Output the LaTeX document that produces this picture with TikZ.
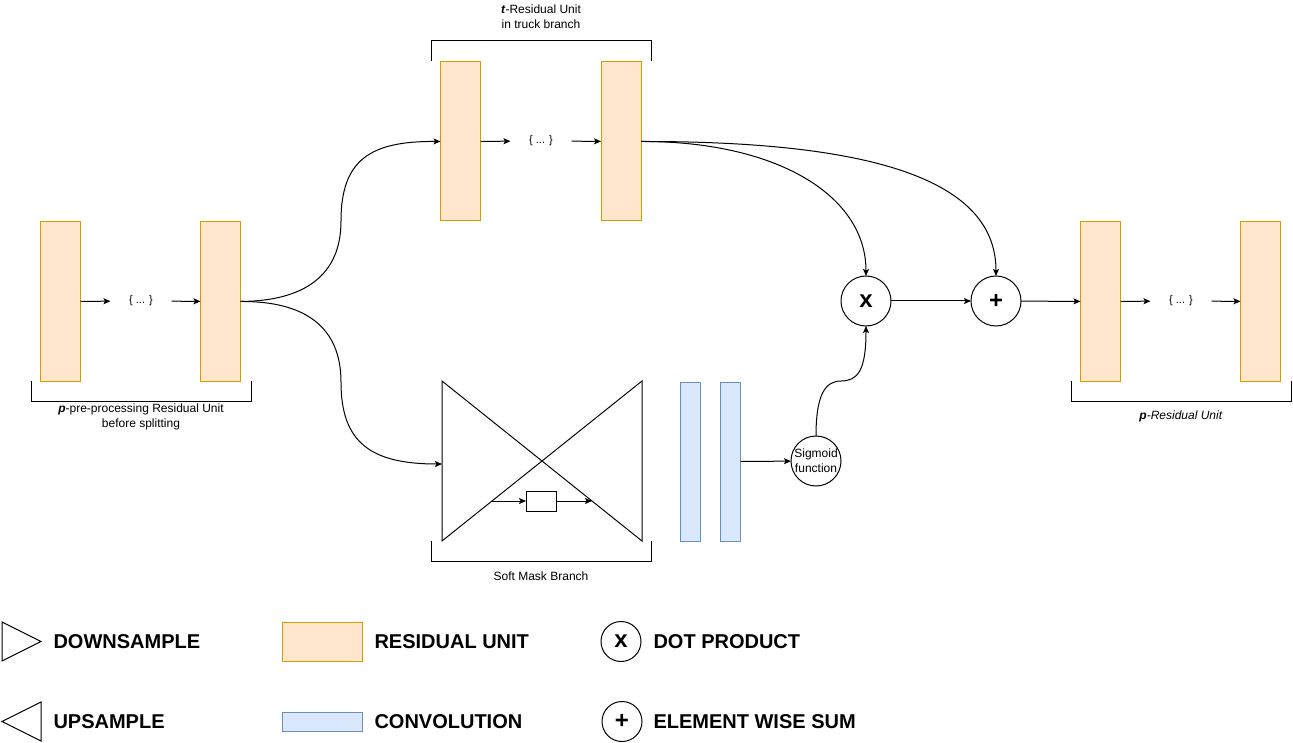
\documentclass[tikz,border=0pt]{standalone}
\usepackage{fontspec}
\setmainfont{Liberation Sans}
\usetikzlibrary{positioning}
\usetikzlibrary{arrows.meta}
\definecolor{resfill}{HTML}{FFE6CC}
\definecolor{resdraw}{HTML}{D79B00}
\definecolor{convfill}{HTML}{DAE8FC}
\definecolor{convdraw}{HTML}{6C8EBF}

\begin{document}
\begin{tikzpicture}[x=1pt,y=-1pt,line width=1pt]
  \tikzset{ResStyle/.style = {
    shape         = rectangle,
    draw          = resdraw,
    fill          = resfill,
    inner sep     = 0pt,
    outer sep     = 0pt,
    minimum width = 40pt,
    minimum height= 159pt
    }
  }
  \tikzset{ConvStyle/.style = {
    shape         = rectangle,
    draw          = convdraw,
    fill          = convfill,
    inner sep     = 0pt,
    outer sep     = 0pt,
    minimum width = 20pt,
    minimum height= 159pt
    }
  }
  \tikzset{OpStyle/.style = {
    shape         = circle,
    draw          = black,
    fill          = white,
    inner sep     = 0pt,
    outer sep     = 0pt,
    minimum size  = 50pt,
    font          = \fontsize{24}{28}\selectfont\bfseries
    }
  }
  \tikzset{DotsStyle/.style = {
    inner sep     = 0pt,
    minimum width = 60pt,
    font          = \fontsize{11}{13}\selectfont
    }
  }
  \tikzset{LabelStyle/.style = {
    inner sep     = 0pt,
    align         = center,
    font          = \fontsize{12}{15}\selectfont
    }
  }
  \tikzset{LegendStyle/.style = {
    inner sep     = 0pt,
    anchor        = west,
    font          = \fontsize{20}{24}\selectfont\bfseries
    }
  }
  \tikzset{EdgeStyle/.style = {
    draw          = black,
    -{Stealth[length=7pt,width=6pt,inset=1.5pt]}
    }
  }

  \useasboundingbox (0,0) rectangle (1293,743);

	% pre-processing units
	\node[ResStyle](L1) at (60.5,301.5) {};
	\node[DotsStyle](LD) at (141,301) {\{ ... \}};
	\node[ResStyle](L2) at (220.5,301.5) {};
	\draw[EdgeStyle](L1) -- (LD);
	\draw[EdgeStyle](LD) -- (L2);
	\draw (31,381) -- (31,401) -- (251,401) -- (251,381);
	\node[LabelStyle](LLab) at (141,416.5) {\textbf{\textit{p}}-pre-processing Residual Unit\\before splitting};

	% trunk branch
	\node[ResStyle](T1) at (460.5,141.5) {};
	\node[DotsStyle](TD) at (541,141) {\{ ... \}};
	\node[ResStyle](T2) at (621,141.5) {};
	\draw[EdgeStyle](T1) -- (TD);
	\draw[EdgeStyle](TD) -- (T2);
	\draw (431,61) -- (431,41) -- (651,41) -- (651,61);
	\node[LabelStyle](TLab) at (541,16.5) {\textbf{\textit{t}}-Residual Unit\\in truck branch};

	% soft mask branch
	\draw (442,381) -- (642,541) -- (642,381) -- (442,541) -- cycle;
	\coordinate (SMleft) at (442,464);
	\coordinate (SMin) at (492,501);
	\coordinate (SMout) at (592,501);
	\node[draw,minimum width=30pt,minimum height=20pt,inner sep=0pt,outer sep=0pt](Mid) at (541,501) {};
	\draw[EdgeStyle](SMin) -- (Mid);
	\draw[EdgeStyle](Mid) -- (SMout);
	\draw (431,541) -- (431,561) -- (651,561) -- (651,541);
	\node[LabelStyle](SLab) at (541,576) {Soft Mask Branch};
	\node[ConvStyle](C1) at (690.5,461.5) {};
	\node[ConvStyle](C2) at (730.5,461.5) {};
	\node[OpStyle,font=\fontsize{12}{15}\selectfont,align=center](Sig) at (816,461) {Sigmoid\\function};
	\draw[EdgeStyle](C2) -- (Sig);

	% splitting
	\draw[EdgeStyle](L2.east) .. controls (305,301) and (341,275) .. (341,221) .. controls (341,160) and (370,141) .. (T1.west);
	\draw[EdgeStyle](L2.east) .. controls (305,301) and (341,327) .. (341,382) .. controls (341,442) and (370,464) .. (SMleft);

	% merging
	\node[OpStyle](Mul) at (866,301) {x};
	\node[OpStyle](Add) at (996,301) {+};
	\draw[EdgeStyle](T2.east) .. controls (776,141) and (866,195) .. (Mul.north);
	\draw[EdgeStyle](T2.east) .. controls (900,141) and (996,190) .. (Add.north);
	\draw[EdgeStyle](Sig.north) .. controls (816,395) and (825,381) .. (841,381) .. controls (858,381) and (866,370) .. (Mul.south);
	\draw[EdgeStyle](Mul) -- (Add);

	% residual units after merging
	\node[ResStyle](R1) at (1100.5,301.5) {};
	\node[DotsStyle](RD) at (1181,301) {\{ ... \}};
	\node[ResStyle](R2) at (1260.5,301.5) {};
	\draw[EdgeStyle](Add) -- (R1);
	\draw[EdgeStyle](R1) -- (RD);
	\draw[EdgeStyle](RD) -- (R2);
	\draw (1071,381) -- (1071,401) -- (1291,401) -- (1291,381);
	\node[LabelStyle](RLab) at (1181,416) {\textit{\textbf{p}-Residual Unit}};

	% legend
	\draw (2,622) -- (41,641.5) -- (2,661) -- cycle;
	\node[LegendStyle](LgDown) at (53,642) {DOWNSAMPLE};
	\draw (41,702) -- (2,721.5) -- (41,741) -- cycle;
	\node[LegendStyle](LgUp) at (53,722) {UPSAMPLE};
	\node[ResStyle,minimum width=80pt,minimum height=39pt](LgRes) at (322,641.5) {};
	\node[LegendStyle,right=12pt of LgRes](LgResT) {RESIDUAL UNIT};
	\node[ConvStyle,minimum width=80pt,minimum height=19pt](LgConv) at (322,721.5) {};
	\node[LegendStyle,right=12pt of LgConv](LgConvT) {CONVOLUTION};
	\node[OpStyle,minimum size=40pt](LgMul) at (621,641.5) {x};
	\node[LegendStyle,right=12pt of LgMul](LgMulT) {DOT PRODUCT};
	\node[OpStyle,minimum size=40pt](LgAdd) at (622,721.5) {+};
	\node[LegendStyle,right=11pt of LgAdd](LgAddT) {ELEMENT WISE SUM};
\end{tikzpicture}
\end{document}
